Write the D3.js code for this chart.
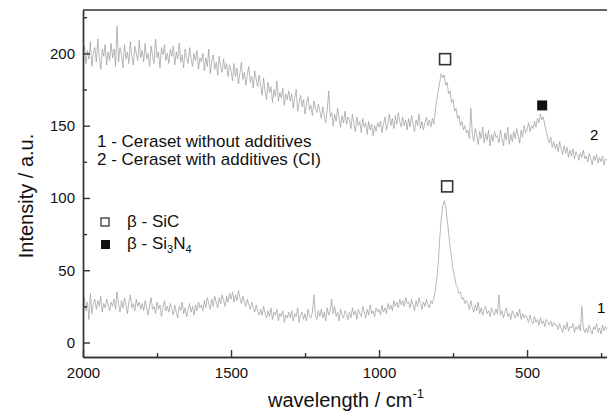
<!DOCTYPE html>
<html>
<head>
<meta charset="utf-8">
<script src="https://cdn.jsdelivr.net/npm/d3@7"></script>
<style>
  body { margin: 0; background: #fff; }
  svg { font-family: "Liberation Sans", Arial, sans-serif; }
  .axis path, .axis line { stroke: #333; stroke-width: 1.4; }
  .axis text { font-size: 15px; fill: #111; }
</style>
</head>
<body>
<div id="chart"></div>
<script>
// sampling grid of the spectra, cm-1 (every 5 cm-1 from 2000 down to 230)
const wavenumbers = d3.range(2000, 229, -5);

// 2 - Ceraset with additives (CI)
const withAdditives = [
  199,205,193,202,196,208,191,200,204,194,210,197,189,203,198,206,192,201,195,207,
  197,203,191,219,194,204,199,190,206,196,201,193,208,198,192,205,200,195,209,197,
  202,194,207,196,200,191,205,198,193,210,197,201,190,204,199,206,195,200,193,203,
  198,205,192,201,196,207,194,199,190,203,197,193,204,196,191,200,195,202,189,197,
  194,200,188,197,191,203,186,195,199,189,194,185,198,191,187,196,189,193,184,192,
  188,181,193,184,190,179,186,194,182,187,178,185,191,180,184,176,188,182,177,185,
  178,171,183,174,168,180,173,177,166,175,170,181,167,173,169,176,164,172,168,174,
  167,172,162,169,175,160,166,171,163,168,158,165,170,161,164,157,167,162,159,165,
  160,155,163,157,152,161,174,156,159,150,158,153,162,155,149,157,152,160,151,156,
  154,148,158,151,146,156,150,153,145,155,149,152,144,153,147,151,143,150,146,152,
  149,153,145,151,156,147,152,158,150,155,148,157,151,159,153,149,156,150,154,147,
  155,149,157,151,146,154,150,158,148,153,147,152,156,150,154,149,155,151,160,168,
  174,180,186,183,185,178,180,172,174,166,168,160,162,155,157,150,153,147,150,145,
  147,141,162,144,139,148,143,137,146,141,149,138,145,140,147,136,144,139,146,142,
  143,138,147,141,136,145,140,149,137,144,139,146,141,148,143,138,147,142,150,145,
  147,152,146,150,148,153,149,155,152,158,154,156,150,146,141,138,142,135,139,134,
  137,132,139,134,130,136,131,135,128,133,129,134,127,132,130,126,131,128,133,127,
  129,125,131,127,123,129,126,130,124,128,125,129,123,127,126
];

// 1 - Ceraset without additives
const withoutAdditives = [
  26,31,22,28,16,34,20,27,30,23,29,25,32,21,27,24,30,26,22,28,
  25,30,23,35,27,21,29,24,31,26,20,28,33,24,27,22,30,25,28,23,
  27,22,29,24,19,26,31,23,25,20,28,23,26,18,24,29,22,25,21,27,
  23,19,26,21,17,25,22,28,20,24,18,23,27,21,25,19,26,22,28,24,
  26,22,29,24,31,27,23,30,25,32,28,24,31,27,33,29,25,32,28,34,
  30,35,28,33,29,36,31,27,32,28,25,30,26,23,28,24,21,26,22,19,
  23,19,25,20,17,22,18,24,16,21,19,23,15,20,18,22,14,19,17,21,
  17,22,15,20,18,24,14,19,21,16,20,15,23,18,17,21,33,19,16,22,
  18,23,17,21,15,24,19,22,30,20,25,18,21,15,23,19,17,22,20,16,
  21,17,24,19,22,16,23,20,18,25,21,17,23,19,26,20,22,18,24,21,
  23,19,26,21,24,20,27,23,26,22,29,25,28,24,30,26,29,25,31,27,
  28,24,30,26,22,29,25,31,27,23,28,25,30,26,24,29,27,31,36,44,
  55,72,85,94,98,95,86,76,66,58,50,46,40,38,34,35,30,31,27,29,
  27,23,29,24,21,26,22,28,20,24,19,23,25,20,22,18,24,21,19,23,
  20,33,19,22,17,21,24,18,20,16,22,19,17,21,18,23,16,20,17,19,
  17,14,19,15,13,18,14,16,12,17,13,15,11,16,14,12,15,11,14,12,
  12,9,13,10,7,12,9,14,8,11,10,13,7,11,9,12,8,25,10,7,
  10,7,12,8,6,11,9,13,7,10,6,12,8,11,9
];

// phase markers: [wavenumber, intensity]
const sicMarks = [[777, 196], [770, 108]];
const si3n4Marks = [[449, 164]];

const xTicks = [2000, 1500, 1000, 500];
const xMinorTicks = [1750, 1250, 750, 250];
const yTicks = [0, 50, 100, 150, 200];
const yMinorTicks = [25, 75, 125, 175, 225];

class SpectrumChart {

  constructor(_config) {
    this.config = {
      parentElement: _config.parentElement,
      containerWidth: _config.containerWidth || 607,
      containerHeight: _config.containerHeight || 412,
      margin: { top: 10, bottom: 55, right: 0, left: 83 }
    }
    this.initVis();
  }

  initVis() {
    let vis = this;

    vis.width = vis.config.containerWidth - vis.config.margin.left - vis.config.margin.right;
    vis.height = vis.config.containerHeight - vis.config.margin.top - vis.config.margin.bottom;

    vis.svg = d3.select(vis.config.parentElement).append('svg')
      .attr('width', vis.config.containerWidth)
      .attr('height', vis.config.containerHeight);

    vis.xScale = d3.scaleLinear()
      .domain([2000, 230])
      .range([0, vis.width]);

    vis.yScale = d3.scaleLinear()
      .domain([-10, 230])
      .range([vis.height, 0]);

    vis.chart = vis.svg.append('g')
      .attr('transform', `translate(${vis.config.margin.left}, ${vis.config.margin.top})`);

    // spectra
    const line = d3.line()
      .x(d => vis.xScale(d[0]))
      .y(d => vis.yScale(d[1]));

    [withAdditives, withoutAdditives].forEach(series => {
      const pts = wavenumbers.slice(0, series.length).map((w, i) => [w, series[i]]);
      vis.chart.append('path')
        .datum(pts)
        .attr('fill', 'none')
        .attr('stroke', '#9a9a9a')
        .attr('stroke-width', 0.7)
        .attr('d', line);
    });

    // axes, ticks point inwards
    vis.chart.append('g')
      .attr('class', 'axis x-axis')
      .attr('transform', `translate(0, ${vis.height})`)
      .call(d3.axisBottom(vis.xScale).tickValues(xTicks).tickFormat(d3.format('d'))
        .tickSize(-7).tickSizeOuter(0).tickPadding(10));

    vis.chart.append('g')
      .attr('class', 'axis x-axis')
      .attr('transform', `translate(0, ${vis.height})`)
      .call(d3.axisBottom(vis.xScale).tickValues(xMinorTicks).tickSize(-4).tickSizeOuter(0).tickFormat(''));

    vis.chart.append('g')
      .attr('class', 'axis y-axis')
      .call(d3.axisLeft(vis.yScale).tickValues(yTicks).tickFormat(d3.format('d'))
        .tickSize(-7).tickSizeOuter(0).tickPadding(8));

    vis.chart.append('g')
      .attr('class', 'axis y-axis')
      .call(d3.axisLeft(vis.yScale).tickValues(yMinorTicks).tickSize(-4).tickSizeOuter(0).tickFormat(''));

    // top frame line
    vis.chart.append('line')
      .attr('x1', 0).attr('x2', vis.width)
      .attr('y1', 0).attr('y2', 0)
      .attr('stroke', '#333')
      .attr('stroke-width', 1.4);

    // phase markers on the peaks
    vis.chart.selectAll('.sic')
      .data(sicMarks)
      .enter()
      .append('rect')
      .attr('x', d => vis.xScale(d[0]) - 5.5)
      .attr('y', d => vis.yScale(d[1]) - 5.5)
      .attr('width', 11).attr('height', 11)
      .attr('fill', '#fff')
      .attr('stroke', '#333')
      .attr('stroke-width', 1.6);

    vis.chart.selectAll('.si3n4')
      .data(si3n4Marks)
      .enter()
      .append('rect')
      .attr('x', d => vis.xScale(d[0]) - 5)
      .attr('y', d => vis.yScale(d[1]) - 5)
      .attr('width', 10).attr('height', 10)
      .attr('fill', '#111');

    // series labels at the right end
    vis.chart.append('text').attr('x', 507).attr('y', 130).style('font-size', '15px').text('2');
    vis.chart.append('text').attr('x', 514).attr('y', 303).style('font-size', '15px').text('1');

    // legend
    const leg = vis.svg.append('g').style('font-size', '17px').attr('fill', '#111');
    leg.append('text').attr('x', 97).attr('y', 147).text('1 - Ceraset without additives');
    leg.append('text').attr('x', 97).attr('y', 165).text('2 - Ceraset with additives (CI)');

    leg.append('rect').attr('x', 101).attr('y', 218).attr('width', 8).attr('height', 8)
      .attr('fill', '#fff').attr('stroke', '#333').attr('stroke-width', 1.3);
    leg.append('rect').attr('x', 101).attr('y', 240).attr('width', 9).attr('height', 9)
      .attr('fill', '#111');
    leg.append('text').attr('x', 127).attr('y', 227).text('β - SiC');
    const si = leg.append('text').attr('x', 127).attr('y', 249);
    si.append('tspan').text('β - Si');
    si.append('tspan').attr('dy', 4).style('font-size', '11px').text('3');
    si.append('tspan').attr('dy', -4).text('N');
    si.append('tspan').attr('dy', 4).style('font-size', '11px').text('4');

    // axis titles
    vis.svg.append('text')
      .attr('transform', 'translate(33, 196) rotate(-90)')
      .attr('text-anchor', 'middle')
      .style('font-size', '20px')
      .attr('fill', '#111')
      .text('Intensity / a.u.');

    const xt = vis.svg.append('text')
      .attr('x', 268)
      .attr('y', 407)
      .style('font-size', '20px')
      .attr('fill', '#111');
    xt.append('tspan').text('wavelength / cm');
    xt.append('tspan').attr('dy', -9).style('font-size', '13px').text('-1');
  }
}

new SpectrumChart({ parentElement: '#chart' });
</script>
</body>
</html>
